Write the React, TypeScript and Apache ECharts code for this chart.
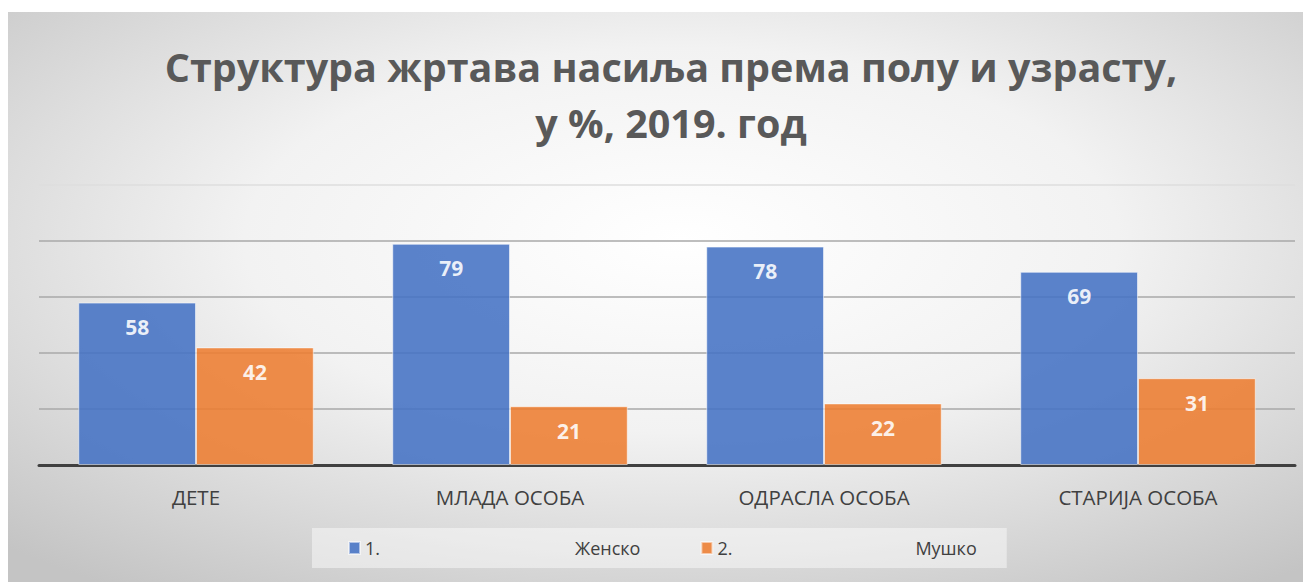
import React, { useEffect, useRef } from "react";
import * as echarts from "echarts";

const titleLines = ["Структура жртава насиља према полу и узрасту,", "у %, 2019. год"];
const categories = ["ДЕТЕ", "МЛАДА ОСОБА", "ОДРАСЛА ОСОБА", "СТАРИЈА ОСОБА"];
const seriesNames = ["1. Женско", "2. Мушко"];
const female = [58, 79, 78, 69];
const male = [42, 21, 22, 31];

export default function App() {
  const ref = useRef<HTMLDivElement>(null);
  useEffect(() => {
    if (!ref.current) return;
    const chart = echarts.init(ref.current, null, { renderer: "svg" });
    const font = "'Open Sans', 'Noto Sans', sans-serif";
    const labelStyle = {
      show: true,
      position: "insideTop",
      distance: 14,
      color: "#ffffff",
      fontWeight: "bold",
      fontSize: 21,
      fontFamily: font,
    };
    chart.setOption({
      animation: false,
      backgroundColor: {
        type: "radial",
        x: 0.52,
        y: 0.4,
        r: 0.75,
        colorStops: [
          { offset: 0, color: "#ffffff" },
          { offset: 0.45, color: "#f2f2f2" },
          { offset: 1, color: "#c4c4c4" },
        ],
      },
      title: {
        text: titleLines.join("\n"),
        left: 658,
        textAlign: "center",
        top: 22,
        textStyle: {
          fontFamily: font,
          fontWeight: "bold",
          fontSize: 39.5,
          lineHeight: 56,
          color: "#595959",
        },
      },
      legend: {
        left: 304,
        top: 516,
        padding: [11, 30, 11, 36],
        backgroundColor: "rgba(255,255,255,0.45)",
        itemWidth: 11,
        itemHeight: 12,
        itemGap: 60,
        icon: "rect",
        data: seriesNames,
        formatter: (name: string) => {
          const i = name.indexOf(" ");
          const idx = seriesNames.indexOf(name);
          return `{${idx === 0 ? "a" : "c"}|${name.slice(0, i)}}{b|${name.slice(i + 1)}}`;
        },
        textStyle: {
          fontFamily: font,
          fontSize: 18,
          color: "#404040",
          rich: {
            a: { width: 210, fontSize: 18, fontFamily: font, color: "#404040" },
            c: { width: 198, fontSize: 18, fontFamily: font, color: "#404040" },
            b: { fontSize: 18, fontFamily: font, color: "#404040" },
          },
        },
      },
      grid: { left: 31, right: 8, top: 173, bottom: 117 },
      xAxis: {
        type: "category",
        data: categories,
        axisLine: { show: true, lineStyle: { color: "#404040", width: 3 } },
        axisTick: { show: false },
        axisLabel: { margin: 21, fontSize: 20.5, fontFamily: font, color: "#404040" },
      },
      yAxis: {
        type: "value",
        min: 0,
        max: 100,
        interval: 20,
        axisLabel: { show: false },
        axisLine: { show: false },
        axisTick: { show: false },
        splitLine: {
          lineStyle: {
            color: ["#a8a8a8", "#a8a8a8", "#a8a8a8", "#a8a8a8", "#a8a8a8", "#dedede"],
            width: 1.5,
          },
        },
      },
      series: [
        {
          name: seriesNames[0],
          type: "bar",
          data: female,
          barGap: "0%",
          barCategoryGap: "25%",
          itemStyle: { color: "#4472C4", opacity: 0.88, borderColor: "rgba(255,255,255,0.6)", borderWidth: 1 },
          label: labelStyle,
        },
        {
          name: seriesNames[1],
          type: "bar",
          data: male,
          itemStyle: { color: "#ED7D31", opacity: 0.88, borderColor: "rgba(255,255,255,0.6)", borderWidth: 1 },
          label: labelStyle,
        },
      ],
    });
    return () => chart.dispose();
  }, []);
  return (
    <div
      ref={ref}
      style={{ position: "absolute", left: 8, top: 12, width: 1295, height: 570 }}
    />
  );
}
